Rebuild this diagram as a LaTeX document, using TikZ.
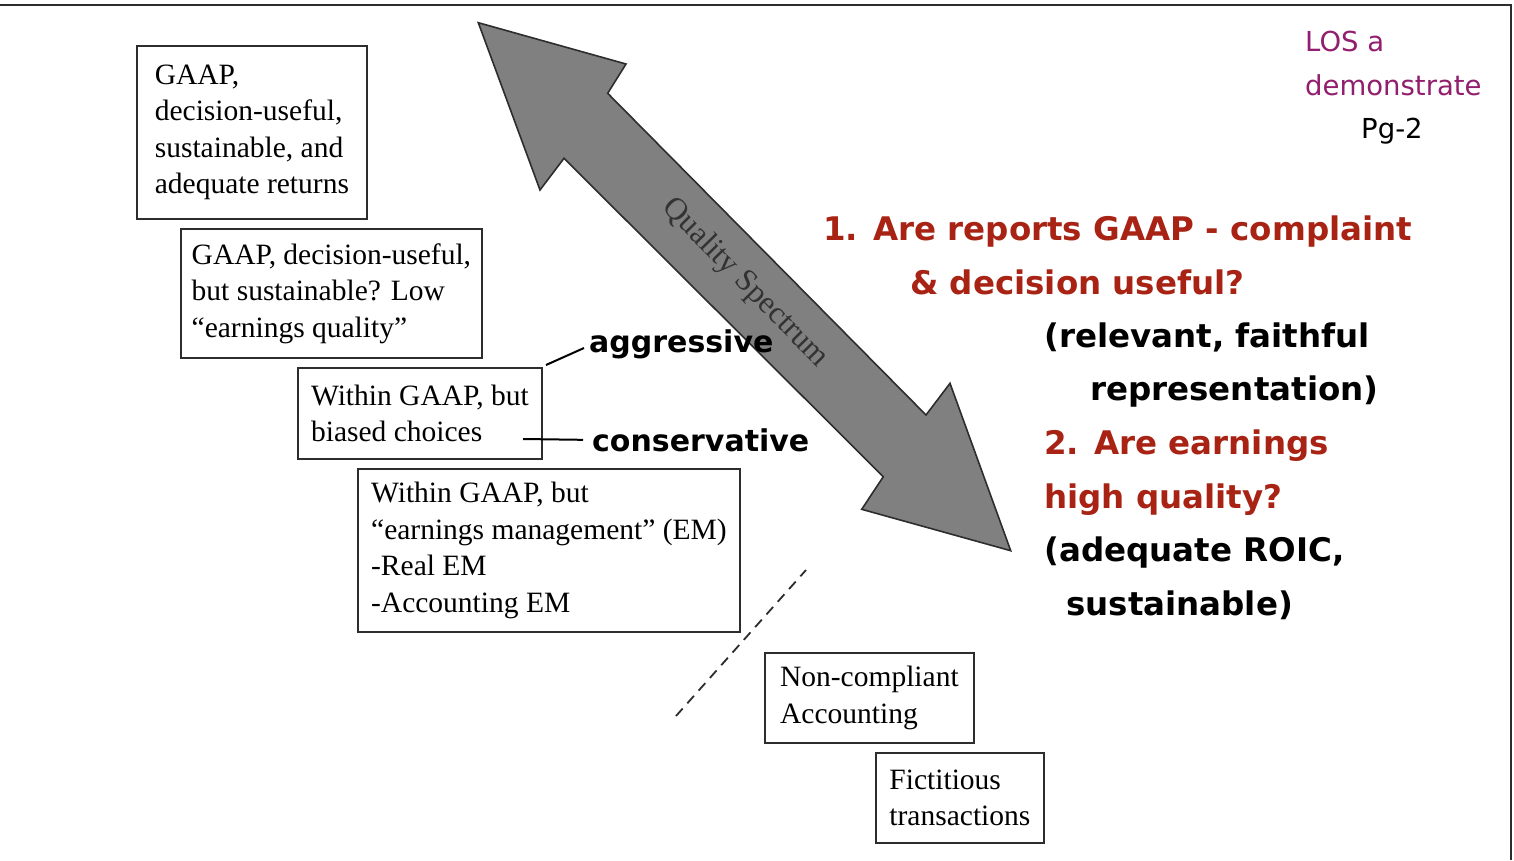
\documentclass[tikz,border=0pt]{standalone}
\usepackage{fontspec}
\setmainfont{Liberation Serif}
\newfontfamily\handfont{DejaVu Sans}
\definecolor{qred}{RGB}{168,35,20}
\definecolor{qpurple}{RGB}{145,30,110}
\definecolor{qline}{RGB}{45,45,45}
\definecolor{qgray}{RGB}{128,128,128}
\begin{document}
\begin{tikzpicture}[x=1pt,y=-1pt,
  box/.style={draw=qline, line width=1.8pt, align=left, inner sep=0pt, anchor=north west,
    font=\fontsize{29.5}{36.5}\selectfont},
  hand/.style={font=\handfont\bfseries\fontsize{32.5}{40}\selectfont, anchor=base west, inner sep=0pt},
  lab/.style={font=\handfont\bfseries\fontsize{30}{36}\selectfont, anchor=base west, inner sep=0pt},
  los/.style={font=\handfont\fontsize{27.5}{33}\selectfont, anchor=base west, inner sep=0pt},
  conn/.style={draw=black, line width=2pt}]
\useasboundingbox (0,0) rectangle (1514,860);
\fill[white] (0,0) rectangle (1514,860);
% frame
\draw[qline, line width=2.2pt] (0,5) -- (1511,5) -- (1511,860);
% double arrow
\filldraw[fill=qgray, draw=qline, line width=1.6pt, line join=miter]
  (478.3,22.7) -- (626,64) -- (607.7,93.3) -- (926,415) -- (950,383.3) -- (1010.7,550.7)
  -- (861.7,509.3) -- (883.3,476.7) -- (564,158.3) -- (540,190) -- cycle;
\node[rotate=-45.5, font=\fontsize{31.5}{31.5}\selectfont, text=black!80, inner sep=0pt] (qs) at (745,283) {Quality Spectrum};
% boxes
\node[box, minimum width=230pt, minimum height=173pt] (b1) at (136,45)
  {GAAP,\\decision-useful,\\sustainable, and\\adequate returns};
\node[box, minimum width=301pt, minimum height=129pt] (b2) at (180,228)
  {GAAP, decision-useful,\\but sustainable? Low\\“earnings quality”};
\node[box, minimum width=244pt, minimum height=91pt] (b3) at (297,367)
  {Within GAAP, but\\biased choices};
\node[box, minimum width=382pt, minimum height=163pt] (b4) at (357,468)
  {Within GAAP, but\\“earnings management” (EM)\\-Real EM\\-Accounting EM};
\node[box, minimum width=209pt, minimum height=90pt] (b5) at (764,652)
  {Non-compliant\\Accounting};
\node[box, minimum width=168pt, minimum height=90pt] (b6) at (875,752)
  {Fictitious\\transactions};
% dashed divider
\coordinate (d1) at (676,716);
\coordinate (d2) at (806,570);
\draw[qline, line width=1.8pt, dash pattern=on 10pt off 7pt] (d1) -- (d2);
% labels
\node[lab] (agg) at (589,352) {aggressive};
\node[lab] (cons) at (592,451) {conservative};
\coordinate (aggS) at (546,365);
\coordinate (consS) at (523,439);
\draw[conn] (aggS) -- ([xshift=-5pt,yshift=4pt]agg.base west);
\draw[conn] (consS) -- ([xshift=-9pt]cons.west);
% right-hand text
\node[hand, text=qred] (q1) at (823,240) {1. Are reports GAAP - complaint};
\node[hand, text=qred] (q1b) at (910,294) {\& decision useful?};
\node[hand] (q1c) at (1044,347) {(relevant, faithful};
\node[hand] (q1d) at (1090,400) {representation)};
\node[hand, text=qred] (q2) at (1044,454) {2. Are earnings};
\node[hand, text=qred] (q2b) at (1044,508) {high quality?};
\node[hand] (q2c) at (1044,561) {(adequate ROIC,};
\node[hand] (q2d) at (1066,615) {sustainable)};
% LOS
\node[los, text=qpurple] (los1) at (1305,51) {LOS a};
\node[los, text=qpurple] (los2) at (1305,95) {demonstrate};
\node[los] (pg) at (1361,138) {Pg-2};
\end{tikzpicture}
\end{document}
